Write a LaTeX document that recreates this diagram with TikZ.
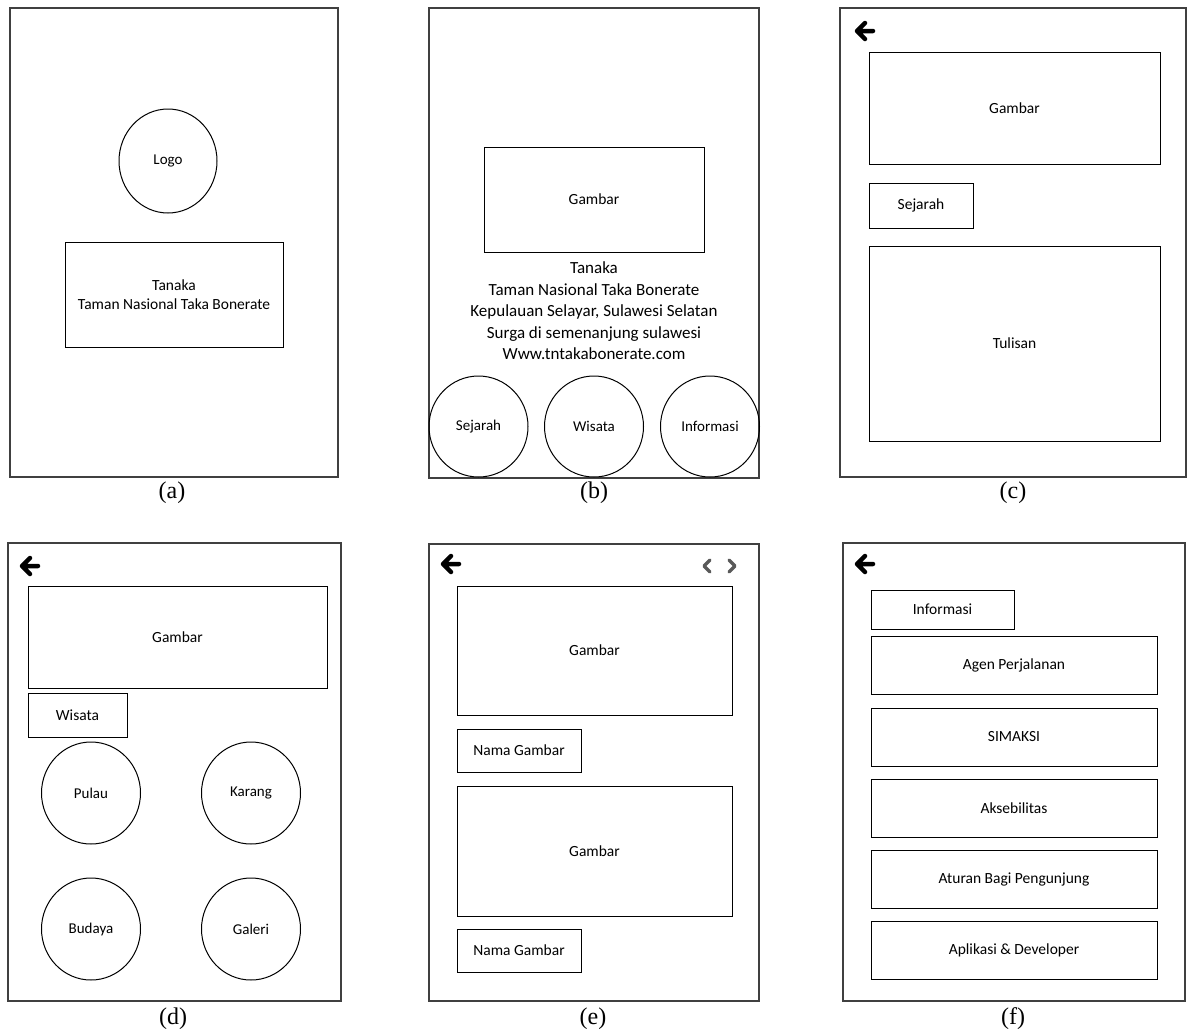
\documentclass[tikz,border=0pt]{standalone}
\usepackage{fontspec}
\setmainfont{Carlito}
\newfontfamily\capfont{Liberation Serif}
\usetikzlibrary{shapes.geometric}
\tikzset{
  back icon/.pic={\draw[line width=4.5pt,line cap=round,line join=round] (8,0) -- (-8,0) (0,-8) -- (-8,0) -- (0,8);},
  prev icon/.pic={\draw[black!65,line width=3.5pt,line cap=round,line join=round] (3,-6) -- (-3,0) -- (3,6);},
  next icon/.pic={\draw[black!65,line width=3.5pt,line cap=round,line join=round] (-3,-6) -- (3,0) -- (-3,6);}
}
\begin{document}
\begin{tikzpicture}[x=1pt, y=-1pt,
  screen node/.style={rectangle,draw=black!75,line width=1.3pt,inner sep=0pt},
  box node/.style={rectangle,draw,line width=1pt,inner sep=0pt,font=\fontsize{15.5}{18}\selectfont},
  round node/.style={ellipse,draw,line width=1pt,inner sep=0pt,minimum width=99pt,minimum height=102pt,font=\fontsize{15}{18}\selectfont},
  cap node/.style={font=\capfont\fontsize{24}{28}\selectfont}]
\useasboundingbox (0,0) rectangle (1187,1034);
% frames
\node [screen node,minimum width=328pt,minimum height=469pt](sa) at (174,242.5) {};
\node [screen node,minimum width=330pt,minimum height=470pt](sb) at (594,243) {};
\node [screen node,minimum width=346pt,minimum height=469pt](sc) at (1013,242.5) {};
\node [screen node,minimum width=333pt,minimum height=458pt](sd) at (174.5,772) {};
\node [screen node,minimum width=330pt,minimum height=457pt](se) at (594,772.5) {};
\node [screen node,minimum width=342pt,minimum height=458pt](sf) at (1014,772) {};
% captions
\node [cap node](ca) at (172,493) {(a)};
\node [cap node](cb) at (594,493) {(b)};
\node [cap node](cc) at (1013,493) {(c)};
\node [cap node](cd) at (173,1019) {(d)};
\node [cap node](ce) at (593,1019) {(e)};
\node [cap node](cf) at (1013,1019) {(f)};
% (a)
\node [round node,minimum width=98pt,minimum height=104pt](logo) at (168,161) {Logo};
\node [box node,minimum width=218pt,minimum height=105pt,align=center,font=\fontsize{15.5}{19}\selectfont](a-title) at (174,295) {Tanaka\\Taman Nasional Taka Bonerate};
% (b)
\node [box node,minimum width=220pt,minimum height=105pt](b-img) at (594,199.5) {Gambar};
\node [align=center,font=\fontsize{17}{21.5}\selectfont](b-info) at (594,311) {Tanaka\\Taman Nasional Taka Bonerate\\Kepulauan Selayar, Sulawesi Selatan\\Surga di semenanjung sulawesi\\Www.tntakabonerate.com};
\node [round node,minimum height=101pt](b-sejarah) at (478.5,426.5) {Sejarah};
\node [round node,minimum height=101pt](b-wisata) at (594,426.5) {Wisata};
\node [round node,minimum height=101pt](b-info2) at (710,426.5) {Informasi};
% (c)
\pic at (865,31) {back icon};
\node [box node,minimum width=291pt,minimum height=112pt](c-img) at (1014.5,108) {Gambar};
\node [box node,minimum width=104pt,minimum height=45pt](c-sejarah) at (921,205.5) {Sejarah};
\node [box node,minimum width=291pt,minimum height=195pt](c-text) at (1014.5,343.5) {Tulisan};
% (d)
\pic at (30,566) {back icon};
\node [box node,minimum width=299pt,minimum height=102pt](d-img) at (177.5,637) {Gambar};
\node [box node,minimum width=99pt,minimum height=44pt](d-wisata) at (77.5,715) {Wisata};
\begin{scope}[every node/.style={font=\fontsize{13.5}{16}\selectfont}]
\node [round node](pulau) at (91,793) {Pulau};
\node [round node](karang) at (251,793) {Karang};
\node [round node](budaya) at (91,929) {Budaya};
\node [round node](galeri) at (251,929) {Galeri};
\end{scope}
% (e)
\pic at (451,564) {back icon};
\pic at (707,566) {prev icon};
\pic at (732,566) {next icon};
\node [box node,minimum width=275pt,minimum height=129pt](e-img1) at (594.5,650.5) {Gambar};
\node [box node,minimum width=124pt,minimum height=43pt](e-name1) at (519,750.5) {Nama Gambar};
\node [box node,minimum width=275pt,minimum height=130pt](e-img2) at (594.5,851) {Gambar};
\node [box node,minimum width=124pt,minimum height=43pt](e-name2) at (519,950.5) {Nama Gambar};
% (f)
\pic at (865,564) {back icon};
\node [box node,minimum width=143pt,minimum height=39pt](f-info) at (942.5,609.5) {Informasi};
\begin{scope}[every node/.style={box node,minimum width=286pt,minimum height=58pt}]
\node (f-agen) at (1014,665) {Agen Perjalanan};
\node (f-simaksi) at (1014,737) {SIMAKSI};
\node (f-akses) at (1014,808) {Aksebilitas};
\node (f-aturan) at (1014,879) {Aturan Bagi Pengunjung};
\node (f-app) at (1014,950) {Aplikasi \& Developer};
\end{scope}
\end{tikzpicture}
\end{document}
